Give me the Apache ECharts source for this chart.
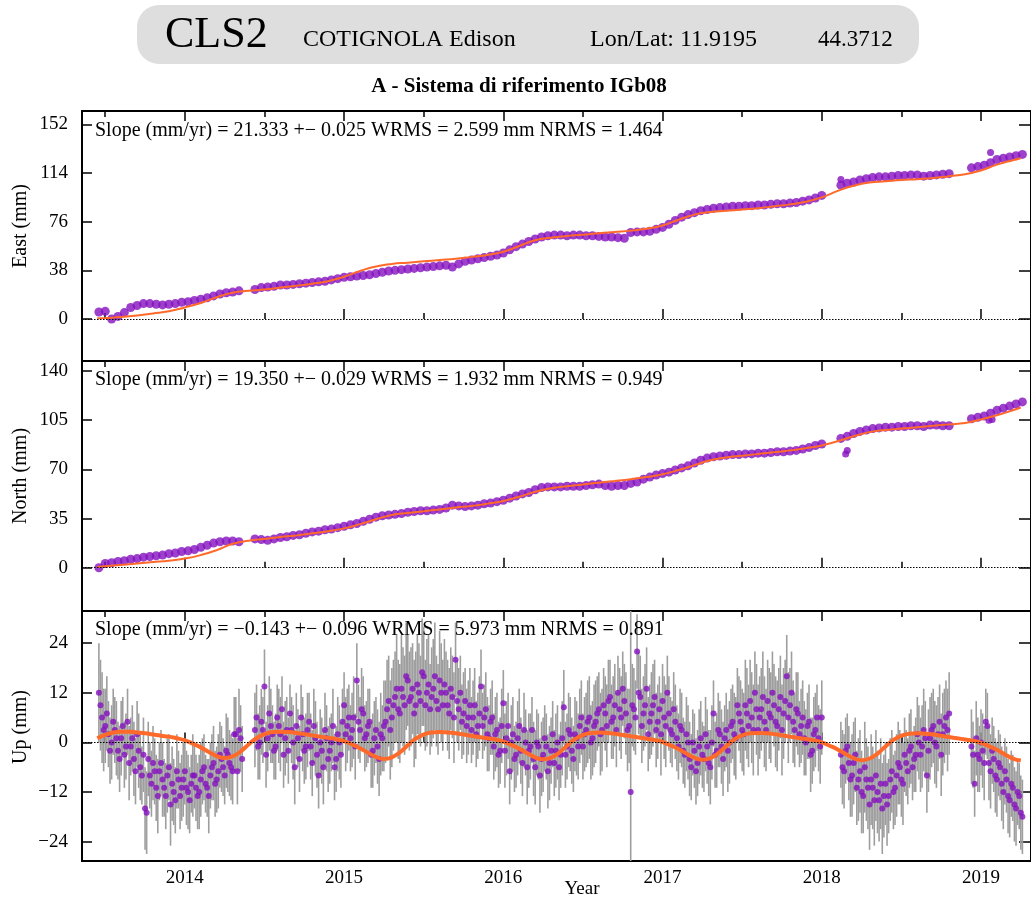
<!DOCTYPE html>
<html><head><meta charset="utf-8">
<script src="https://cdn.jsdelivr.net/npm/echarts@6/dist/echarts.min.js"></script>
<style>html,body{margin:0;padding:0;background:#fff}#c{width:1031px;height:899px}</style>
</head><body><div id="c"></div><script>
// ---------- DATA ----------
const yearTicks = [2014, 2015, 2016, 2017, 2018, 2019];
const halfYearTicks = [2013.5, 2014.5, 2015.5, 2016.5, 2017.5, 2018.5];
const eastTicks = [0, 38, 76, 114, 152];
const northTicks = [0, 35, 70, 105, 140];
const upTicks = [-24, -12, 0, 12, 24];

// East / North daily solutions (sampled)
const enTimes = [
2013.46,2013.50,2013.54,2013.58,2013.62,2013.66,2013.70,2013.74,2013.78,2013.82,2013.86,2013.90,2013.94,2013.98,
2014.02,2014.06,2014.10,2014.14,2014.18,2014.22,2014.26,2014.30,2014.34,
2014.44,2014.48,2014.52,2014.56,2014.60,2014.64,2014.68,2014.72,2014.76,2014.80,2014.84,2014.88,2014.92,2014.96,
2015.00,2015.04,2015.08,2015.12,2015.16,2015.20,2015.24,2015.28,2015.32,2015.36,2015.40,2015.44,2015.48,2015.52,2015.56,2015.60,2015.64,2015.68,2015.72,2015.76,2015.80,2015.84,2015.88,2015.92,2015.96,
2016.00,2016.04,2016.08,2016.12,2016.16,2016.20,2016.24,2016.28,2016.32,2016.36,2016.40,2016.44,2016.48,2016.52,2016.56,2016.60,2016.64,2016.68,2016.72,2016.76,2016.80,2016.84,2016.88,2016.92,2016.96,
2017.00,2017.04,2017.08,2017.12,2017.16,2017.20,2017.24,2017.28,2017.32,2017.36,2017.40,2017.44,2017.48,2017.52,2017.56,2017.60,2017.64,2017.68,2017.72,2017.76,2017.80,2017.84,2017.88,2017.92,2017.96,
2018.00,
2018.12,2018.16,2018.20,2018.24,2018.28,2018.32,2018.36,2018.40,2018.44,2018.48,2018.52,2018.56,2018.60,2018.64,2018.68,2018.72,2018.76,2018.80,
2018.94,2018.98,2019.02,2019.06,2019.10,2019.14,2019.18,2019.22,2019.26];
const eastValues = [
5.5,6,0,2,5,9,10.5,12,12,11.5,11,11.5,12,13,
13.5,14.5,15.5,16.5,18,19.5,20.5,21,22,
23,24.5,25,25.5,26.5,26.5,27,27.5,28,28.5,29,29.5,30.5,31.5,
32.5,33,33.5,34,34.5,35.5,36.5,37.5,38,38.5,39,39.5,40,40.5,41,41.5,42,40.5,43,45,46,47,48,49,50,
51.5,54,56.5,58.5,60.5,62.5,64,65,65.5,65.5,65,65.5,65.5,65,65,64.5,64,64,63.5,63,67.5,68,68,68.5,70,
71.5,74,77,79.5,81.5,83,84.5,85.5,86.5,87,87.5,88,88,88.5,88.5,89,89,89.5,90,90,90.5,91,92,93,94.5,
96.5,
104.5,106,107,108.5,109.5,110.5,111,111,111.5,112,112,112.5,112.5,111.5,112,112.5,113,113.5,
118,119,120,122,124.5,125.5,126.5,127.5,128.5];
const northValues = [
0,3,3.5,4.5,5,6,6.5,7.5,8,8.5,9,10,10.5,11.5,
12,13,14.5,16,17.5,18.5,19,19,18.5,
20.5,20,19.5,20.5,21.5,22,23,23.5,24.5,25.5,26,27,27.5,28.5,
29.5,30.5,31.5,33,34.5,36,37,37.5,38,38.5,39.5,40,40.5,40.5,41,41.5,42.5,44.5,44,43.5,44,44.5,45.5,46,47,
48,49.5,51,52.5,53.5,55.5,57,57.5,57.5,57.5,58,58,58,58.5,59,59.5,58.5,58,58.5,58.5,60,61,63,64.5,66,
67,68,69.5,71,72.5,74.5,76.5,78,79,79.5,80,80.5,80.5,81,81,81.5,81.5,82,82.5,82.5,83,83.5,84.5,85.5,87,
88,
92,93.5,95.5,97,98,99,99.5,100,100,100.5,100.5,101,101,100.5,101.5,101.5,101,101,
106,107,108,110,112,113.5,115,116.5,118];
const eastOutlierTimes = [2018.12, 2019.06];
const eastOutlierValues = [109, 130];
const northOutlierTimes = [2018.15, 2018.16, 2019.05, 2019.07];
const northOutlierValues = [81, 83.5, 105, 105.5];

// Fitted model (East / North)
const fitTimes = [2013.45,2013.5,2013.6,2013.7,2013.8,2013.9,
2014.0,2014.1,2014.2,2014.3,2014.4,2014.5,2014.6,2014.7,2014.8,2014.9,
2015.0,2015.1,2015.2,2015.3,2015.4,2015.5,2015.6,2015.7,2015.8,2015.9,
2016.0,2016.1,2016.2,2016.3,2016.4,2016.5,2016.6,2016.7,2016.8,2016.9,
2017.0,2017.1,2017.2,2017.3,2017.4,2017.5,2017.6,2017.7,2017.8,2017.9,
2018.0,2018.1,2018.2,2018.3,2018.4,2018.5,2018.6,2018.7,2018.8,2018.9,
2019.0,2019.1,2019.2,2019.25];
const eastFit = [0.5,0.8,1.5,2.8,4.3,6,
9,12.5,17,20.5,22,23,24.5,26,27.5,29.5,
33,37.5,41,43,44,45,46,47,48.5,50,
52.5,57,61.5,63.5,64.8,65.8,67,68,69,70.5,
73,77.5,81.5,83.5,84.5,85.5,86.5,88,89.5,91.5,
95,100,104,106.5,107.5,108.5,109.2,110,111.5,113,
116,120.5,124,125.5];
const northFit = [0.5,1,2,3,4,5,
6.5,9,12.5,17,19.2,20.5,21.8,23,24.5,26,
28,31,34.5,37.5,39,40.2,41.5,42.8,44,45.5,
47.5,50.5,54,56.5,58,59.2,60.5,61.7,63,64.5,
66.5,69.5,73,76.5,78.5,79.7,80.9,82.1,83.5,85,
87,90,93.5,96.5,98,99,100,101,102,103,
105.5,108.5,112,114];

// Up component, set A (even hundredths)
const upTimes = [
2013.46,2013.48,2013.50,2013.52,2013.54,2013.56,2013.58,2013.60,2013.62,2013.64,2013.66,2013.68,2013.70,2013.72,2013.74,2013.76,2013.78,2013.80,2013.82,2013.84,2013.86,2013.88,2013.90,2013.92,2013.94,2013.96,2013.98,
2014.00,2014.02,2014.04,2014.06,2014.08,2014.10,2014.12,2014.14,2014.16,2014.18,2014.20,2014.22,2014.24,2014.26,2014.28,2014.30,2014.32,2014.34,2014.36,
2014.44,2014.46,2014.48,2014.50,2014.52,2014.54,2014.56,2014.58,2014.60,2014.62,2014.64,2014.66,2014.68,2014.70,2014.72,2014.74,2014.76,2014.78,2014.80,2014.82,2014.84,2014.86,2014.88,2014.90,2014.92,2014.94,2014.96,2014.98,
2015.00,2015.02,2015.04,2015.06,2015.08,2015.10,2015.12,2015.14,2015.16,2015.18,2015.20,2015.22,2015.24,2015.26,2015.28,2015.30,2015.32,2015.34,2015.36,2015.38,2015.40,2015.42,2015.44,2015.46,2015.48,2015.50,2015.52,2015.54,2015.56,2015.58,2015.60,2015.62,2015.64,2015.66,2015.68,2015.70,2015.72,2015.74,2015.76,2015.78,2015.80,2015.82,2015.84,2015.86,2015.88,2015.90,2015.92,2015.94,2015.96,2015.98,
2016.00,2016.02,2016.04,2016.06,2016.08,2016.10,2016.12,2016.14,2016.16,2016.18,2016.20,2016.22,2016.24,2016.26,2016.28,2016.30,2016.32,2016.34,2016.36,2016.38,2016.40,2016.42,2016.44,2016.46,2016.48,2016.50,2016.52,2016.54,2016.56,2016.58,2016.60,2016.62,2016.64,2016.66,2016.68,2016.70,2016.72,2016.74,2016.76,2016.78,2016.80,2016.82,2016.84,2016.86,2016.88,2016.90,2016.92,2016.94,2016.96,2016.98,
2017.00,2017.02,2017.04,2017.06,2017.08,2017.10,2017.12,2017.14,2017.16,2017.18,2017.20,2017.22,2017.24,2017.26,2017.28,2017.30,2017.32,2017.34,2017.36,2017.38,2017.40,2017.42,2017.44,2017.46,2017.48,2017.50,2017.52,2017.54,2017.56,2017.58,2017.60,2017.62,2017.64,2017.66,2017.68,2017.70,2017.72,2017.74,2017.76,2017.78,2017.80,2017.82,2017.84,2017.86,2017.88,2017.90,2017.92,2017.94,2017.96,2017.98,
2018.00,
2018.12,2018.14,2018.16,2018.18,2018.20,2018.22,2018.24,2018.26,2018.28,2018.30,2018.32,2018.34,2018.36,2018.38,2018.40,2018.42,2018.44,2018.46,2018.48,2018.50,2018.52,2018.54,2018.56,2018.58,2018.60,2018.62,2018.64,2018.66,2018.68,2018.70,2018.72,2018.74,2018.76,2018.78,2018.80,
2018.94,2018.96,2018.98,2019.00,2019.02,2019.04,2019.06,2019.08,2019.10,2019.12,2019.14,2019.16,2019.18,2019.20,2019.22,2019.24,2019.26];
const upValues = [
12,6,4,2,0,3,-2,1,-3,5,-1,-4,2,-6,-3,-17,-8,-5,-11,-7,-9,-13,-6,-10,-14,-9,-11,
-7,-12,-10,-8,-13,-9,-6,-11,-8,-5,-9,-3,-6,-2,-5,-7,2,3,-4,
3,-1,5,13.5,1,4,-2,6,2,-3,3,7,0,4,-4,2,-1,5,-5,1,-8,-2,3,-4,0,-6,2,-3,
9,4,1,6,15,3,7,2,5,-2,3,-4,1,5,10,6,11,8,13,9,15,11,7,14,10,16,12,8,13,10,15,9,12,7,11,20,8,5,10,6,3,9,4,13.5,6,2,5,-1,3,-2,
9.5,1,-7,2,-3,4,-5,0,-2,3,-6,-1,-4,1,-7,-2,-5,0,-3,8.5,-1,2,-4,1,4,-1,3,6,1,5,8,3,7,10,5,9,12,6,10,3,-12,8,22,11,7,13,5,9,3,8,
10,4,7,2,5,-1,3,-3,0,-6,-2,-5,1,-4,-1,-6,7,-2,2,-4,3,0,5,1,7,3,9,4,6,12,3,8,5,10,6,9,4,11,7,16,9,5,8,2,6,0,5,-2,3,1,
6,
-3,-7,-1,-9,-5,-11,-7,-13,-9,-15,-11,-8,-14,-16,-10,-13,-7,-11,-5,-9,-3,-7,-1,-4,2,-3,3,-8,1,4,-1,5,2,6,7,
-1,-10,-3,0,-5,4,-7,-4,-9,-6,-12,-9,-14,-11,-16,-13,-18];
const upSigma = [
12,11,9,8,9,8,7,9,8,8,7,9,8,8,9,10,8,9,8,7,9,8,8,9,8,7,8,
8,9,7,8,8,9,8,7,8,9,8,8,7,9,8,8,9,10,8,
9,8,8,9,8,9,7,8,9,8,8,7,9,8,8,9,8,7,8,9,8,8,9,8,7,8,9,8,
8,9,8,10,9,8,9,8,8,9,8,9,8,10,11,12,11,12,13,12,11,12,13,12,11,12,13,11,12,11,12,11,10,11,10,9,10,9,8,9,8,9,8,9,8,9,8,8,9,8,
8,9,8,9,8,9,8,8,9,8,9,8,9,8,9,8,8,9,8,9,8,9,8,9,9,8,9,10,9,10,9,10,9,10,9,10,9,10,9,10,45,10,9,10,9,10,9,10,9,8,
9,10,9,8,9,8,9,8,9,8,9,8,9,8,9,9,8,9,8,9,9,10,9,10,9,10,11,10,11,10,11,10,11,10,11,10,11,10,11,10,9,10,9,8,9,8,9,8,9,8,
9,
8,9,8,9,10,9,10,9,10,11,10,11,10,11,10,9,10,9,10,9,9,8,9,8,9,9,10,9,10,9,10,9,10,9,10,
9,8,9,8,9,8,9,8,9,8,9,8,9,8,9,8,9];

// Up component, set B (odd hundredths)
const upTimesB = [
2013.47,2013.49,2013.51,2013.53,2013.55,2013.57,2013.59,2013.61,2013.63,2013.65,2013.67,2013.69,2013.71,2013.73,2013.75,2013.77,2013.79,2013.81,2013.83,2013.85,2013.87,2013.89,2013.91,2013.93,2013.95,2013.97,2013.99,
2014.01,2014.03,2014.05,2014.07,2014.09,2014.11,2014.13,2014.15,2014.17,2014.19,2014.21,2014.23,2014.25,2014.27,2014.29,2014.31,2014.33,2014.35,
2014.45,2014.47,2014.49,2014.51,2014.53,2014.55,2014.57,2014.59,2014.61,2014.63,2014.65,2014.67,2014.69,2014.71,2014.73,2014.75,2014.77,2014.79,2014.81,2014.83,2014.85,2014.87,2014.89,2014.91,2014.93,2014.95,2014.97,2014.99,
2015.01,2015.03,2015.05,2015.07,2015.09,2015.11,2015.13,2015.15,2015.17,2015.19,2015.21,2015.23,2015.25,2015.27,2015.29,2015.31,2015.33,2015.35,2015.37,2015.39,2015.41,2015.43,2015.45,2015.47,2015.49,2015.51,2015.53,2015.55,2015.57,2015.59,2015.61,2015.63,2015.65,2015.67,2015.69,2015.71,2015.73,2015.75,2015.77,2015.79,2015.81,2015.83,2015.85,2015.87,2015.89,2015.91,2015.93,2015.95,2015.97,2015.99,
2016.01,2016.03,2016.05,2016.07,2016.09,2016.11,2016.13,2016.15,2016.17,2016.19,2016.21,2016.23,2016.25,2016.27,2016.29,2016.31,2016.33,2016.35,2016.37,2016.39,2016.41,2016.43,2016.45,2016.47,2016.49,2016.51,2016.53,2016.55,2016.57,2016.59,2016.61,2016.63,2016.65,2016.67,2016.69,2016.71,2016.73,2016.75,2016.77,2016.79,2016.81,2016.83,2016.85,2016.87,2016.89,2016.91,2016.93,2016.95,2016.97,2016.99,
2017.01,2017.03,2017.05,2017.07,2017.09,2017.11,2017.13,2017.15,2017.17,2017.19,2017.21,2017.23,2017.25,2017.27,2017.29,2017.31,2017.33,2017.35,2017.37,2017.39,2017.41,2017.43,2017.45,2017.47,2017.49,2017.51,2017.53,2017.55,2017.57,2017.59,2017.61,2017.63,2017.65,2017.67,2017.69,2017.71,2017.73,2017.75,2017.77,2017.79,2017.81,2017.83,2017.85,2017.87,2017.89,2017.91,2017.93,2017.95,2017.97,2017.99,
2018.13,2018.15,2018.17,2018.19,2018.21,2018.23,2018.25,2018.27,2018.29,2018.31,2018.33,2018.35,2018.37,2018.39,2018.41,2018.43,2018.45,2018.47,2018.49,2018.51,2018.53,2018.55,2018.57,2018.59,2018.61,2018.63,2018.65,2018.67,2018.69,2018.71,2018.73,2018.75,2018.77,2018.79,
2018.95,2018.97,2018.99,2019.01,2019.03,2019.05,2019.07,2019.09,2019.11,2019.13,2019.15,2019.17,2019.19,2019.21,2019.23,2019.25];
const upValuesB = [
9,3,7,-2,5,1,-4,4,-1,-5,1,-7,-2,-8,-16,-4,-10,-7,-13,-5,-11,-8,-15,-12,-7,-13,-9,
-11,-14,-8,-11,-12,-7,-10,-13,-6,-10,-7,-4,-8,-3,-6,2,-7,1,
6,0,3,-3,7,2,-1,4,8,1,-2,3,-6,1,6,-2,3,-1,4,-3,0,-6,1,-2,4,-4,0,5,
2,6,3,-1,5,8,1,4,-3,1,-1,2,4,8,3,9,13,7,11,16,10,13,9,12,17,9,14,11,16,8,12,14,9,13,6,10,12,7,4,9,6,2,7,4,8,1,6,2,-3,4,
-2,4,0,-4,1,-2,3,-6,-1,-4,0,-8,-3,-1,-5,2,-2,-6,1,-3,3,-2,2,-1,6,2,5,0,4,7,2,9,4,11,6,3,8,13,7,4,9,6,12,4,9,2,7,11,5,2,
6,12,3,8,1,4,-2,2,-4,0,-7,-1,-3,2,-5,0,-3,3,-1,1,-2,4,2,9,5,2,7,10,3,8,6,11,3,7,12,5,8,3,10,6,12,3,7,4,1,4,-3,2,6,-1,
-6,-2,-5,-8,-3,-9,-12,-6,-11,-9,-14,-12,-10,-13,-15,-9,-12,-8,-6,-10,-5,-2,-6,-3,0,-1,1,-2,3,0,2,-3,4,3,
-3,1,-4,-2,5,-5,-2,-8,-5,-10,-7,-13,-10,-15,-12,-17];
const upSigmaB = [
11,10,9,8,8,9,8,7,8,9,8,8,9,7,10,9,8,8,9,8,7,9,10,8,9,8,9,
9,8,10,8,9,8,7,9,8,8,9,8,7,9,8,9,8,8,
8,9,8,8,9,7,8,9,8,9,8,8,9,7,8,8,9,8,9,8,8,9,8,8,9,8,9,8,
9,8,9,8,9,10,8,9,8,9,9,10,11,12,12,11,13,12,12,13,12,11,13,12,13,11,12,12,13,11,12,11,11,10,11,10,9,10,9,9,9,8,9,8,9,8,9,9,8,9,
9,8,9,8,9,8,9,9,8,9,8,9,9,8,9,8,9,8,9,8,9,8,9,8,9,9,10,9,10,9,10,9,10,9,10,9,10,9,10,9,10,9,10,9,10,9,10,9,9,10,
10,9,8,9,8,9,8,9,9,8,8,9,8,9,8,9,8,9,9,8,10,9,10,9,10,10,11,10,11,11,10,11,10,11,10,11,10,11,10,11,10,9,10,9,9,8,9,9,8,9,
9,8,9,10,9,10,10,11,10,11,11,10,11,10,10,10,9,10,9,10,8,9,8,9,9,10,9,10,9,10,9,10,9,10,
8,9,8,9,8,9,8,9,8,9,8,9,8,9,8,9];

const upFitTimes = [2013.45,2013.50,2013.55,2013.60,2013.65,2013.70,2013.75,2013.80,2013.85,2013.90,2013.95,
2014.00,2014.05,2014.10,2014.15,2014.20,2014.25,2014.30,2014.35,2014.40,2014.45,2014.50,2014.55,2014.60,2014.65,2014.70,2014.75,2014.80,2014.85,2014.90,2014.95,
2015.00,2015.05,2015.10,2015.15,2015.20,2015.25,2015.30,2015.35,2015.40,2015.45,2015.50,2015.55,2015.60,2015.65,2015.70,2015.75,2015.80,2015.85,2015.90,2015.95,
2016.00,2016.05,2016.10,2016.15,2016.20,2016.25,2016.30,2016.35,2016.40,2016.45,2016.50,2016.55,2016.60,2016.65,2016.70,2016.75,2016.80,2016.85,2016.90,2016.95,
2017.00,2017.05,2017.10,2017.15,2017.20,2017.25,2017.30,2017.35,2017.40,2017.45,2017.50,2017.55,2017.60,2017.65,2017.70,2017.75,2017.80,2017.85,2017.90,2017.95,
2018.00,2018.05,2018.10,2018.15,2018.20,2018.25,2018.30,2018.35,2018.40,2018.45,2018.50,2018.55,2018.60,2018.65,2018.70,2018.75,2018.80,2018.85,2018.90,2018.95,
2019.00,2019.05,2019.10,2019.15,2019.20,2019.25];
const upFit = [1.0,1.8,2.4,2.6,2.6,2.4,2.2,1.9,1.6,1.4,1.0,
0.5,-0.3,-1.2,-2.3,-3.3,-3.8,-3.4,-2.2,-0.5,1.0,2.0,2.5,2.6,2.5,2.3,2.0,1.7,1.4,1.1,0.8,
0.3,-0.5,-1.4,-2.5,-3.5,-4.0,-3.6,-2.4,-0.7,0.9,1.9,2.4,2.5,2.4,2.2,1.9,1.6,1.3,1.0,0.7,
0.2,-0.6,-1.5,-2.6,-3.6,-4.1,-3.7,-2.5,-0.8,0.8,1.8,2.3,2.4,2.3,2.1,1.8,1.5,1.2,0.9,0.6,
0.1,-0.7,-1.6,-2.7,-3.7,-4.2,-3.8,-2.6,-0.9,0.7,1.7,2.2,2.3,2.2,2.0,1.7,1.4,1.1,0.8,0.5,
0.0,-0.8,-1.7,-2.8,-3.8,-4.3,-3.9,-2.7,-1.0,0.6,1.6,2.1,2.2,2.1,1.9,1.6,1.3,1.0,0.7,0.4,
-0.1,-0.9,-1.8,-2.9,-3.9,-4.4];

const slopeTexts = [
  'Slope (mm/yr) = 21.333 +\u2212 0.025 WRMS = 2.599 mm NRMS = 1.464',
  'Slope (mm/yr) = 19.350 +\u2212 0.029 WRMS = 1.932 mm NRMS = 0.949',
  'Slope (mm/yr) = \u22120.143 +\u2212 0.096 WRMS = 5.973 mm NRMS = 0.891'];
const axisNames = ['East (mm)', 'North (mm)', 'Up (mm)'];

// ---------- LAYOUT ----------
const FONT = '"Liberation Serif","DejaVu Serif",serif';
const PURPLE = '#8410bf', ORANGE = '#ff6a2a';
const X_MIN = 2013.354, X_MAX = 2019.314;
const LEFT = 82, RIGHT = -1;
const panels = [
  {top: 111, height: 250, min: -32.8, max: 162.4, ticks: eastTicks},
  {top: 361, height: 250, min: -30.8, max: 147.1, ticks: northTicks},
  {top: 611, height: 250, min: -28.7, max: 31.8, ticks: upTicks}
];
const minusFmt = v => (v < 0 ? '\u2212' + Math.abs(v) : String(v));

const grids = [], xAxes = [], yAxes = [], series = [];
panels.forEach((p, i) => {
  grids.push({left: LEFT, right: RIGHT, top: p.top, height: p.height, show: true,
    borderColor: '#000', borderWidth: 2, backgroundColor: 'transparent'});
  const base = {type: 'value', gridIndex: i, min: X_MIN, max: X_MAX, axisLine: {show: false},
    splitLine: {show: false}};
  xAxes.push(Object.assign({}, base, {position: 'bottom',
    axisTick: {show: true, inside: true, length: 10, customValues: yearTicks, lineStyle: {color: '#000', width: 1.5}},
    axisLabel: {show: i === 2, customValues: yearTicks, margin: 8, fontSize: 19, color: '#000', fontFamily: FONT,
      formatter: v => String(Math.round(v))}}));
  xAxes.push(Object.assign({}, base, {position: 'bottom',
    axisTick: {show: true, inside: true, length: 6, customValues: halfYearTicks, lineStyle: {color: '#000', width: 1.5}},
    axisLabel: {show: false}}));
  xAxes.push(Object.assign({}, base, {position: 'top',
    axisTick: {show: true, inside: true, length: 10, customValues: yearTicks, lineStyle: {color: '#000', width: 1.5}},
    axisLabel: {show: false}}));
  xAxes.push(Object.assign({}, base, {position: 'top',
    axisTick: {show: true, inside: true, length: 6, customValues: halfYearTicks, lineStyle: {color: '#000', width: 1.5}},
    axisLabel: {show: false}}));
  yAxes.push({type: 'value', gridIndex: i, min: p.min, max: p.max, position: 'left',
    axisLine: {show: false}, splitLine: {show: false},
    axisTick: {show: true, inside: true, length: 10, customValues: p.ticks, lineStyle: {color: '#000', width: 1.5}},
    axisLabel: {customValues: p.ticks, margin: 14, fontSize: 19, color: '#000', fontFamily: FONT, formatter: minusFmt}});
  yAxes.push({type: 'value', gridIndex: i, min: p.min, max: p.max, position: 'right',
    axisLine: {show: false}, splitLine: {show: false},
    axisTick: {show: true, inside: true, length: 12, customValues: p.ticks, lineStyle: {color: '#000', width: 1.5}},
    axisLabel: {show: false}});
});
const xi = i => i * 4, yi = i => i * 2;
const zeroLine = {silent: true, symbol: 'none', label: {show: false},
  lineStyle: {color: '#000', type: [1.5, 1.5], width: 1}, data: [{yAxis: 0}]};

function addPanel(i, t, v, ot, ov, ft, fv) {
  series.push({type: 'scatter', xAxisIndex: xi(i), yAxisIndex: yi(i), symbolSize: 9,
    itemStyle: {color: PURPLE}, data: t.map((x, k) => [x, v[k]]), markLine: zeroLine, z: 2});
  series.push({type: 'scatter', xAxisIndex: xi(i), yAxisIndex: yi(i), symbolSize: 7,
    itemStyle: {color: PURPLE}, data: ot.map((x, k) => [x, ov[k]]), z: 2});
  series.push({type: 'line', xAxisIndex: xi(i), yAxisIndex: yi(i), smooth: true, showSymbol: false,
    lineStyle: {color: ORANGE, width: 2}, data: ft.map((x, k) => [x, fv[k]]), z: 3});
}
addPanel(0, enTimes, eastValues, eastOutlierTimes, eastOutlierValues, fitTimes, eastFit);
addPanel(1, enTimes, northValues, northOutlierTimes, northOutlierValues, fitTimes, northFit);

// Up panel
const errData = upTimes.map((t, k) => [t, upValues[k] - upSigma[k], upValues[k] + upSigma[k]])
  .concat(upTimesB.map((t, k) => [t, upValuesB[k] - upSigmaB[k], upValuesB[k] + upSigmaB[k]]));
series.push({type: 'custom', xAxisIndex: xi(2), yAxisIndex: yi(2), z: 1,
  encode: {x: 0, y: [1, 2]}, data: errData,
  renderItem: (params, api) => {
    const cs = params.coordSys;
    const a = api.coord([api.value(0), api.value(1)]);
    const b = api.coord([api.value(0), api.value(2)]);
    const clamp = y => Math.max(cs.y, Math.min(cs.y + cs.height, y));
    return {type: 'line', shape: {x1: a[0], y1: clamp(a[1]), x2: b[0], y2: clamp(b[1])},
      style: {stroke: '#9e9e9e', lineWidth: 1.6}};
  }});
series.push({type: 'scatter', xAxisIndex: xi(2), yAxisIndex: yi(2), symbolSize: 6, z: 2,
  itemStyle: {color: PURPLE}, data: upTimes.map((t, k) => [t, upValues[k]]), markLine: zeroLine});
series.push({type: 'scatter', xAxisIndex: xi(2), yAxisIndex: yi(2), symbolSize: 6, z: 2,
  itemStyle: {color: PURPLE}, data: upTimesB.map((t, k) => [t, upValuesB[k]])});
series.push({type: 'line', xAxisIndex: xi(2), yAxisIndex: yi(2), smooth: true, showSymbol: false, z: 3,
  lineStyle: {color: ORANGE, width: 4}, data: upFitTimes.map((x, k) => [x, upFit[k]])});

// ---------- TEXT ----------
const graphic = [
  {type: 'rect', shape: {x: 137, y: 5, width: 782, height: 59, r: 22}, style: {fill: '#dedede'}, z: 0},
  {type: 'text', x: 165, y: 35, style: {text: 'CLS2', font: '44px ' + FONT, fill: '#000', verticalAlign: 'middle'}},
  {type: 'text', x: 303, y: 40, style: {text: 'COTIGNOLA Edison', font: '24px ' + FONT, fill: '#000', verticalAlign: 'middle'}},
  {type: 'text', x: 590, y: 40, style: {text: 'Lon/Lat: 11.9195', font: '24px ' + FONT, fill: '#000', verticalAlign: 'middle'}},
  {type: 'text', x: 818, y: 40, style: {text: '44.3712', font: '23px ' + FONT, fill: '#000', verticalAlign: 'middle'}},
  {type: 'text', x: 519, y: 87, style: {text: 'A - Sistema di riferimento IGb08', font: 'bold 21px ' + FONT, fill: '#000', align: 'center', verticalAlign: 'middle'}},
  {type: 'text', x: 582, y: 889, style: {text: 'Year', font: '19px ' + FONT, fill: '#000', align: 'center', verticalAlign: 'middle'}}
];
[131, 380, 630].forEach((y, i) => graphic.push({type: 'text', x: 95, y: y, z: 10,
  style: {text: slopeTexts[i], font: '20px ' + FONT, fill: '#000', verticalAlign: 'middle'}}));
[[226, 0], [476, 1], [727, 2]].forEach(([y, i]) => graphic.push({type: 'text', x: 21, y: y, rotation: Math.PI / 2,
  style: {text: axisNames[i], font: '20px ' + FONT, fill: '#000', align: 'center', verticalAlign: 'middle'}}));

const chart = echarts.init(document.getElementById('c'), null, {renderer: 'canvas'});
chart.setOption({animation: false, backgroundColor: '#fff', grid: grids, xAxis: xAxes, yAxis: yAxes,
  series: series, graphic: graphic});
</script></body></html>
